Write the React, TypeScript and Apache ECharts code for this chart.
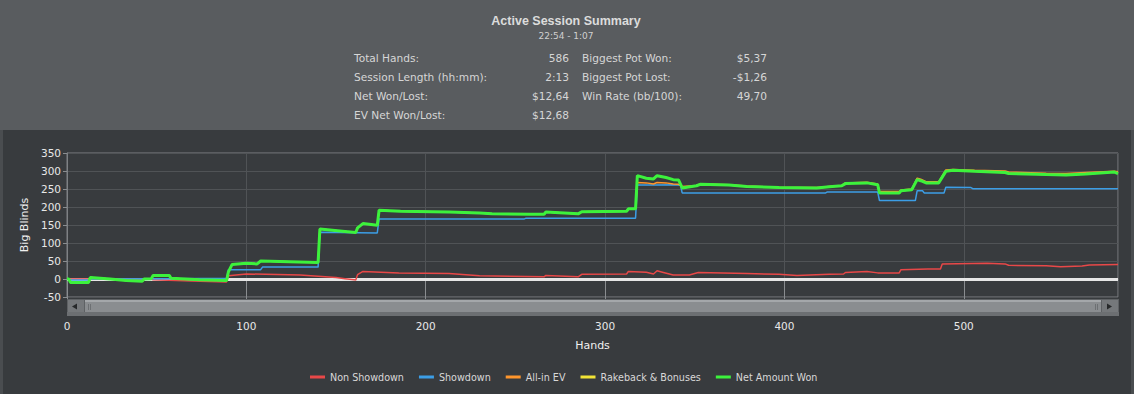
import React, { useEffect, useRef } from "react";
import * as echarts from "echarts";

const FONT = "'DejaVu Sans', Verdana, sans-serif";

// ---- header texts ----
const titleText = "Active Session Summary";
const subtitleText = "22:54 - 1:07";
const leftLabels = ["Total Hands:", "Session Length (hh:mm):", "Net Won/Lost:", "EV Net Won/Lost:"];
const leftValues = ["586", "2:13", "$12,64", "$12,68"];
const rightLabels = ["Biggest Pot Won:", "Biggest Pot Lost:", "Win Rate (bb/100):"];
const rightValues = ["$5,37", "-$1,26", "49,70"];

// ---- axes ----
const xMax = 586;
const xInterval = 100;
const yMin = -50;
const yMax = 350;
const yInterval = 50;

// ---- series names ----
const seriesNames = ["Non Showdown", "Showdown", "All-in EV", "Rakeback & Bonuses", "Net Amount Won"];
const seriesColors = ["#e84848", "#3c9ee6", "#ff962c", "#f2e436", "#3cf23c"];

// ---- data: [hand, big blinds] ----
const nonShowdown: [number, number][] = [
  [0, 0], [47, 0], [48, -2], [74, -6], [89, -8], [90, 9], [100, 14], [130, 11], [150, 4], [155, 1],
  [160, -2], [161, -3], [162, 12], [165, 21], [185, 17], [213, 15], [230, 9], [266, 6], [267, 10],
  [285, 6], [287, 13], [312, 14], [313, 21], [323, 19], [327, 14], [329, 23], [332, 19], [338, 11],
  [347, 11], [352, 18], [379, 15], [397, 13], [407, 10], [425, 13], [433, 14], [434, 18], [446, 21],
  [452, 17], [464, 17], [465, 26], [480, 28], [487, 28], [488, 42], [513, 44], [523, 42], [525, 38],
  [546, 37], [554, 34], [566, 36], [570, 39], [586, 40],
];

const showdown: [number, number][] = [
  [0, 0], [1, 0], [2, -3], [12, -3], [13, 0], [60, 1], [89, 2], [90, 26], [108, 26], [109, 33],
  [140, 33], [141, 130], [173, 128], [174, 167], [255, 167], [256, 169], [317, 169], [318, 261],
  [327, 261], [342, 262], [343, 239], [423, 239], [424, 242], [452, 242], [453, 218], [473, 218],
  [474, 245], [477, 245], [478, 239], [489, 239], [490, 255], [504, 254], [505, 251], [586, 251],
];

const allInEV: [number, number][] = [
  [0, 0], [1, 0], [2, -10], [12, -10], [13, 4], [24, 0], [33, -4], [42, -6], [43, 0], [47, 1],
  [48, 10], [57, 10], [58, 2], [74, -2], [89, -4], [90, 20], [92, 40], [100, 44], [106, 42],
  [108, 50], [140, 46], [141, 139], [155, 132], [161, 129], [162, 142], [165, 154], [173, 149],
  [174, 191], [186, 188], [213, 186], [230, 183], [237, 181], [258, 180], [266, 180], [267, 186],
  [285, 181], [287, 187], [312, 188], [313, 195], [317, 195], [318, 268], [323, 267], [327, 264],
  [329, 268], [334, 267], [338, 264], [341, 263], [343, 257], [351, 260], [353, 264], [369, 262],
  [379, 258], [397, 255], [418, 254], [425, 257], [432, 260], [434, 267], [446, 269], [452, 264],
  [453, 243], [464, 243], [465, 247], [471, 250], [474, 280], [476, 277], [479, 270], [486, 270],
  [490, 303], [494, 304], [506, 302], [523, 300], [525, 297], [546, 294], [557, 293], [568, 296],
  [584, 299], [586, 298],
];

const netAmountWon: [number, number][] = [
  [0, 0], [1, 0], [2, -10], [12, -10], [13, 4], [24, 0], [33, -4], [42, -6], [43, 0], [47, 1],
  [48, 10], [57, 10], [58, 2], [74, -2], [89, -4], [90, 20], [92, 40], [100, 44], [106, 42],
  [108, 50], [140, 46], [141, 139], [155, 132], [161, 129], [162, 142], [165, 154], [173, 149],
  [174, 191], [186, 188], [213, 186], [230, 183], [237, 181], [258, 180], [266, 180], [267, 186],
  [285, 181], [287, 187], [312, 188], [313, 195], [317, 195], [318, 287], [323, 280], [327, 278],
  [329, 287], [334, 282], [338, 276], [341, 275], [343, 253], [351, 259], [353, 263], [369, 261],
  [379, 257], [397, 254], [418, 253], [425, 256], [432, 259], [434, 265], [446, 267], [452, 262],
  [453, 239], [464, 239], [465, 245], [471, 248], [474, 276], [476, 273], [479, 267], [486, 267],
  [490, 299], [494, 302], [506, 299], [523, 296], [525, 293], [546, 290], [557, 289], [568, 292],
  [584, 297], [586, 293],
];

// no rakeback recorded: the yellow line coincides with the net amount line
const rakebackAndBonuses: [number, number][] = netAmountWon;

const seriesData = [nonShowdown, showdown, allInEV, rakebackAndBonuses, netAmountWon];
const seriesWidths = [1.5, 1.5, 1.5, 1.5, 3];

function buildOption() {
  const textColor = "#d6d6d6";
  const graphics: any[] = [
    { type: "rect", shape: { x: 0, y: 0, width: 1134, height: 130 }, style: { fill: "#595c5f" }, z: 0 },
    { type: "rect", shape: { x: 0, y: 130, width: 3, height: 264 }, style: { fill: "#4a4d50" }, z: 0 },
    { type: "rect", shape: { x: 1131, y: 130, width: 3, height: 264 }, style: { fill: "#4a4d50" }, z: 0 },
    {
      type: "text", x: 566, y: 20.5, z: 10,
      style: { text: titleText, fill: "#dcdcdc", font: "bold 12.5px 'Liberation Sans', Arial, sans-serif", align: "center", verticalAlign: "middle" },
    },
    {
      type: "text", x: 566, y: 36, z: 10,
      style: { text: subtitleText, fill: "#d0d0d0", font: `9px ${FONT}`, align: "center", verticalAlign: "middle" },
    },
  ];
  const rowY = [58, 77, 96, 115];
  leftLabels.forEach((t, i) => {
    graphics.push({ type: "text", x: 354, y: rowY[i], z: 10, style: { text: t, fill: textColor, font: `10.6px ${FONT}`, align: "left", verticalAlign: "middle" } });
    graphics.push({ type: "text", x: 569, y: rowY[i], z: 10, style: { text: leftValues[i], fill: textColor, font: `10.6px ${FONT}`, align: "right", verticalAlign: "middle" } });
  });
  rightLabels.forEach((t, i) => {
    graphics.push({ type: "text", x: 582, y: rowY[i], z: 10, style: { text: t, fill: textColor, font: `10.6px ${FONT}`, align: "left", verticalAlign: "middle" } });
    graphics.push({ type: "text", x: 767, y: rowY[i], z: 10, style: { text: rightValues[i], fill: textColor, font: `10.6px ${FONT}`, align: "right", verticalAlign: "middle" } });
  });
  // scrollbar look-alike under the plot
  graphics.push(
    { type: "rect", shape: { x: 67, y: 299, width: 1052, height: 17 }, style: { fill: "#5e6164" }, z: 50 },
    { type: "rect", shape: { x: 68, y: 300, width: 16, height: 13 }, style: { fill: "#75787b" }, z: 51 },
    { type: "polygon", shape: { points: [[72, 306.5], [77, 303.5], [77, 309.5]] }, style: { fill: "#26282a" }, z: 52 },
    { type: "rect", shape: { x: 85, y: 300, width: 1016, height: 12 }, style: { fill: "#8a8d90" }, z: 51 },
    { type: "rect", shape: { x: 85, y: 300, width: 1016, height: 2 }, style: { fill: "#a4a7aa" }, z: 52 },
    { type: "rect", shape: { x: 67, y: 312, width: 1052, height: 4 }, style: { fill: "#6c6f72" }, z: 52 },
    { type: "line", shape: { x1: 88.5, y1: 304, x2: 88.5, y2: 310 }, style: { stroke: "#6d7073", lineWidth: 1 }, z: 53 },
    { type: "line", shape: { x1: 90.5, y1: 304, x2: 90.5, y2: 310 }, style: { stroke: "#6d7073", lineWidth: 1 }, z: 53 },
    { type: "line", shape: { x1: 1095.5, y1: 304, x2: 1095.5, y2: 310 }, style: { stroke: "#6d7073", lineWidth: 1 }, z: 53 },
    { type: "line", shape: { x1: 1097.5, y1: 304, x2: 1097.5, y2: 310 }, style: { stroke: "#6d7073", lineWidth: 1 }, z: 53 },
    { type: "rect", shape: { x: 1102, y: 300, width: 16, height: 13 }, style: { fill: "#75787b" }, z: 51 },
    { type: "polygon", shape: { points: [[1112, 306.5], [1107, 303.5], [1107, 309.5]] }, style: { fill: "#26282a" }, z: 52 },
  );

  const series: any[] = seriesNames.map((name, i) => ({
    name,
    type: "line",
    data: seriesData[i],
    showSymbol: false,
    symbol: "none",
    color: seriesColors[i],
    lineStyle: { width: seriesWidths[i], color: seriesColors[i] },
    z: 2 + i,
  }));
  series[0].markLine = {
    silent: true,
    symbol: ["none", "none"],
    label: { show: false },
    lineStyle: { color: "#e6e6e6", width: 3, type: "solid" },
    data: [{ yAxis: 0 }],
    z: 1,
  };

  return {
    animation: false,
    backgroundColor: "#383b3e",
    textStyle: { fontFamily: FONT },
    graphic: graphics,
    grid: {
      left: 67, top: 153, right: 16, height: 144,
      show: true, borderColor: "#7e8184", borderWidth: 1, backgroundColor: "transparent",
    },
    xAxis: {
      type: "value", min: 0, max: xMax, interval: xInterval,
      name: "Hands", nameLocation: "middle", nameGap: 43,
      nameTextStyle: { color: "#f0f0f0", fontSize: 11, fontFamily: FONT },
      axisLine: { show: true, lineStyle: { color: "#7e8184" } },
      axisTick: { show: true, length: 24, lineStyle: { color: "#8a8d90" } },
      axisLabel: { color: "#e8e8e8", fontSize: 10.5, fontFamily: FONT, margin: 23, showMaxLabel: false },
      splitLine: { show: true, lineStyle: { color: "#505356", width: 1 } },
    },
    yAxis: {
      type: "value", min: yMin, max: yMax, interval: yInterval,
      name: "Big Blinds", nameLocation: "middle", nameRotate: 90, nameGap: 37,
      nameTextStyle: { color: "#f0f0f0", fontSize: 11, fontFamily: FONT },
      axisLine: { show: true, lineStyle: { color: "#7e8184" } },
      axisTick: { show: true, length: 4, lineStyle: { color: "#8a8d90" } },
      axisLabel: { color: "#e8e8e8", fontSize: 10.5, fontFamily: FONT, margin: 6 },
      splitLine: { show: true, lineStyle: { color: "#505356", width: 1 } },
    },
    legend: {
      left: 305, top: 367, icon: "rect", itemWidth: 15, itemHeight: 3, itemGap: 15,
      textStyle: { color: "#d8d8d8", fontSize: 9.6, fontFamily: FONT },
      data: seriesNames,
    },
    series,
  };
}

export default function App() {
  const ref = useRef<HTMLDivElement>(null);
  useEffect(() => {
    const chart = echarts.init(ref.current!, null, { renderer: "svg" });
    chart.setOption(buildOption() as any);
    return () => chart.dispose();
  }, []);
  return <div ref={ref} style={{ position: "fixed", left: 0, top: 0, width: 1134, height: 394 }} />;
}
